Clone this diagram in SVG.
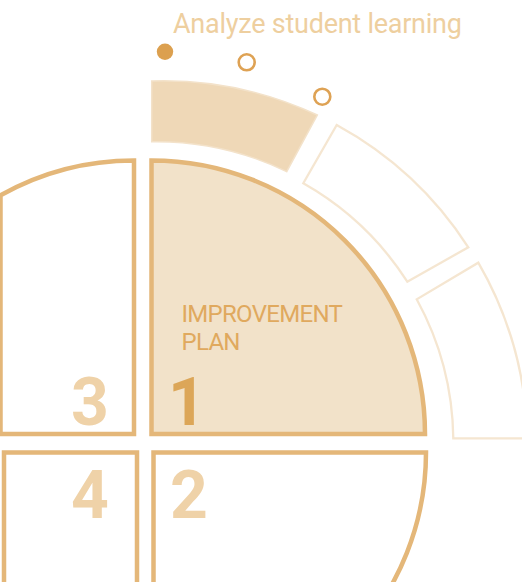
<svg xmlns="http://www.w3.org/2000/svg" width="522" height="582" viewBox="0 0 522 582">
<style>
.q{stroke:#e4b779;stroke-width:4.5;stroke-linejoin:miter}
.seg{stroke:#f5e6d1;stroke-width:2.3;fill:#ffffff}
.num{font-family:Roboto,"Liberation Sans",sans-serif;font-weight:bold;font-size:66px;text-anchor:middle;fill:#efd2a8}
.lbl{font-family:Roboto,"Liberation Sans",sans-serif;font-size:24px;fill:#e0a95e;letter-spacing:-0.7px}
.ring{fill:#ffffff;stroke:#dea254;stroke-width:2.6}
</style>
<rect width="522" height="582" fill="#ffffff"/>
<g id="title">
<text x="173" y="33.3" font-family="Roboto,'Liberation Sans',sans-serif" font-size="27" letter-spacing="-0.25" fill="#eecf9f">Analyze student learning</text>
</g>
<g id="steps">
<circle cx="165" cy="51.7" r="8.2" fill="#dca04f"/>
<circle class="ring" cx="246.7" cy="62.3" r="8"/>
<circle class="ring" cx="322.3" cy="96.7" r="8"/>
</g>
<g id="segment-1">
<path d="M151.7,81 A364.6,364.6 0 0 1 317.3,115 L286.7,171.7 A297.5,297.5 0 0 0 151.7,141.7 Z" fill="#efd8b7" stroke="#f3e2ca" stroke-width="1.5"/>
</g>
<g id="segment-2">
<path class="seg" d="M336.7,125 A364.6,364.6 0 0 1 468.3,247.3 L407.3,281.7 A297.5,297.5 0 0 0 303.3,183.3 Z"/>
</g>
<g id="segment-3">
<path class="seg" d="M478.3,262.7 A364.6,364.6 0 0 1 527.3,438.3 L453.3,438.3 A297.5,297.5 0 0 0 416.7,299.3 Z"/>
</g>
<g id="quadrant-1">
<path class="q" fill="#f2e2c9" d="M151.5,434 V160.5 A273.5,273.5 0 0 1 425,434 Z"/>
<text class="lbl" x="181.5" y="322">IMPROVEMENT</text>
<text class="lbl" x="181.5" y="350">PLAN</text>
<text class="num" x="187" y="425" fill="#dca658" style="fill:#dca658">1</text>
</g>
<g id="quadrant-2">
<path class="q" fill="#ffffff" d="M153.5,452.5 H426 A272.5,272.5 0 0 1 153.5,725 Z"/>
<text class="num" x="189" y="518">2</text>
</g>
<g id="quadrant-3">
<path class="q" fill="#ffffff" d="M134,434 V160.5 A273.5,273.5 0 0 0 0.5,195.3 V434 Z"/>
<text class="num" x="90" y="425">3</text>
</g>
<g id="quadrant-4">
<path class="q" fill="#ffffff" d="M4,600 V452.5 H137 V600"/>
<text class="num" x="90" y="518">4</text>
</g>
<g id="connectors"></g>
</svg>
